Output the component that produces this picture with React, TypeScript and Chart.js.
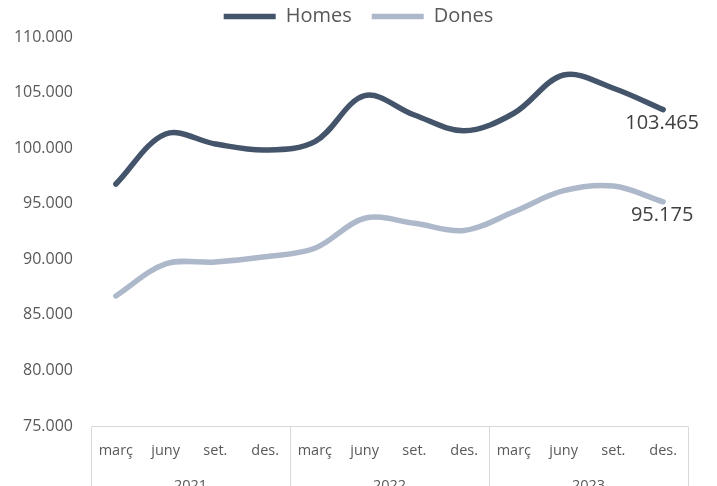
import React, { useEffect, useRef } from 'react';
import { Chart, registerables } from 'chart.js';

Chart.register(...registerables);

const FONT = "'Open Sans', 'Noto Sans', sans-serif";

const months = ['març', 'juny', 'set.', 'des.', 'març', 'juny', 'set.', 'des.', 'març', 'juny', 'set.', 'des.'];
const years = ['2021', '2022', '2023'];
const homes = [96770, 101270, 100370, 99830, 100580, 104720, 102980, 101570, 103140, 106580, 105390, 103465];
const dones = [86700, 89580, 89760, 90230, 90990, 93690, 93240, 92590, 94280, 96170, 96590, 95175];
const yMin = 75000;
const yMax = 110000;
const yStep = 5000;

const fmt = (n: number) => Math.round(n).toString().replace(/\B(?=(\d{3})+(?!\d))/g, '.');

export default function App() {
  const ref = useRef<HTMLCanvasElement>(null);

  useEffect(() => {
    const canvas = ref.current!;
    Chart.defaults.font.family = FONT;

    const legendFit = {
      id: 'legendFit',
      beforeInit(chart: any) {
        const orig = chart.legend.fit;
        chart.legend.fit = function () {
          orig.call(this);
          this.height += 0.5;
        };
      },
    };

    const perGroup = months.length / years.length;

    const decor = {
      id: 'decor',
      afterDraw(chart: any) {
        const { ctx, chartArea: a, scales } = chart;
        const x = scales.x;
        const H = chart.height;
        ctx.save();
        ctx.strokeStyle = '#D9D9D9';
        ctx.lineWidth = 1;
        ctx.beginPath();
        const top = Math.round(a.bottom) + 0.5;
        const left = Math.round(x.getPixelForValue(-0.5)) + 0.5;
        const right = Math.round(x.getPixelForValue(months.length - 0.5)) + 0.5;
        ctx.moveTo(left, top);
        ctx.lineTo(right, top);
        for (let g = 0; g <= years.length; g++) {
          const px = Math.round(x.getPixelForValue(g * perGroup - 0.5)) + 0.5;
          ctx.moveTo(px, top);
          ctx.lineTo(px, H);
        }
        ctx.stroke();

        ctx.fillStyle = '#595959';
        ctx.font = `14.5px ${FONT}`;
        ctx.textAlign = 'center';
        ctx.textBaseline = 'middle';
        years.forEach((yr, g) => {
          ctx.fillText(yr, x.getPixelForValue(g * perGroup + (perGroup - 1) / 2), 486);
        });

        ctx.font = `20px ${FONT}`;
        ctx.fillStyle = '#404040';
        chart.data.datasets.forEach((ds: any, i: number) => {
          const meta = chart.getDatasetMeta(i);
          const last = meta.data.length - 1;
          const pt = meta.data[last];
          ctx.fillText(fmt(ds.data[last]), pt.x - 1, pt.y + 14);
        });
        ctx.restore();
      },
    };

    const chart = new Chart(canvas, {
      type: 'line',
      data: {
        labels: months,
        datasets: [
          {
            label: 'Homes',
            data: homes,
            borderColor: '#44546A',
            backgroundColor: '#44546A',
            borderWidth: 5.5,
            tension: 0.35,
            borderCapStyle: 'round',
            borderJoinStyle: 'round',
            pointRadius: 0,
            fill: false,
          },
          {
            label: 'Dones',
            data: dones,
            borderColor: '#ADB9CA',
            backgroundColor: '#ADB9CA',
            borderWidth: 5.5,
            tension: 0.35,
            borderCapStyle: 'round',
            borderJoinStyle: 'round',
            pointRadius: 0,
            fill: false,
          },
        ],
      },
      options: {
        responsive: false,
        animation: false,
        layout: { padding: { top: -13.5, right: 0, left: 0, bottom: 0 } },
        plugins: {
          legend: {
            position: 'top',
            labels: {
              usePointStyle: true,
              pointStyle: 'line',
              pointStyleWidth: 52,
              padding: 20,
              color: '#595959',
              font: { size: 20, family: FONT },
            },
          },
          tooltip: { enabled: false },
        },
        scales: {
          x: {
            type: 'category',
            offset: true,
            grid: { display: false, drawTicks: false },
            border: { display: false },
            ticks: {
              color: '#595959',
              font: { size: 14.5, family: FONT },
              padding: 16,
              maxRotation: 0,
              autoSkip: false,
            },
            afterFit(s: any) {
              s.height = 60;
              s.paddingRight = 29;
              s.paddingLeft = 0;
            },
          },
          y: {
            min: yMin,
            max: yMax,
            grid: { display: false, drawTicks: false },
            border: { display: false },
            ticks: {
              stepSize: yStep,
              color: '#595959',
              font: { size: 16, family: FONT },
              padding: 18,
              callback: (v: any) => fmt(Number(v)),
            },
            afterFit(s: any) {
              s.width = 91;
            },
          },
        },
      },
      plugins: [legendFit, decor],
    } as any);

    return () => chart.destroy();
  }, []);

  return (
    <div style={{ position: 'fixed', left: 0, top: 0, width: 717, height: 486, background: '#fff' }}>
      <canvas ref={ref} width={717} height={486} style={{ display: 'block' }} />
    </div>
  );
}
